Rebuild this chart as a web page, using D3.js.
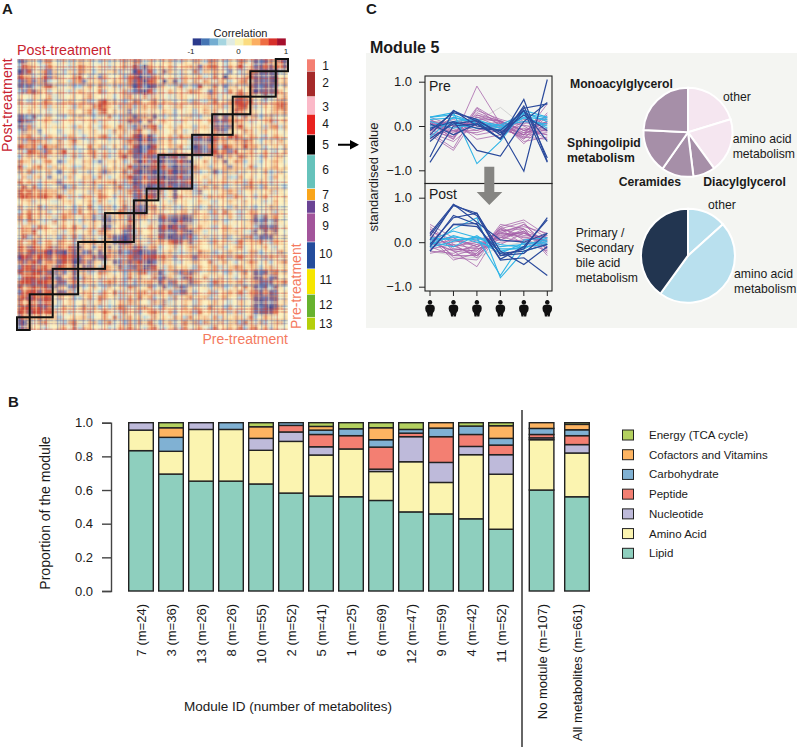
<!DOCTYPE html>
<html><head><meta charset="utf-8">
<style>html,body{margin:0;padding:0;background:#fff}svg{display:block}text{font-family:"Liberation Sans",Arial,sans-serif;fill:#1a1a1a}</style>
<script src="https://cdn.jsdelivr.net/npm/d3@7/dist/d3.min.js"></script>
</head><body><svg id="c" width="800" height="747"></svg>
<script>
// ---------- DATA ----------
const moduleIds=[1,2,3,4,5,6,7,8,9,10,11,12,13];
const moduleSizes=[25,52,36,42,41,69,24,26,59,55,52,47,26];
const moduleColors=["#f47f72","#a52a2a","#fbb9c8","#e8221f","#000000","#66c2bb","#f9a51b","#6a4394","#a2559b","#244c9c","#f6e600","#68b22e","#b5cf0a"];
const moduleLabelYs=[65.7,83,106.7,124,144.3,169.3,195,208,226,254,280,305,324];
const corrLegend=["#2b3a8c","#4575b4","#74add1","#a6d5e0","#e0ebe4","#f9f3b8","#fbdc80","#fbae61","#ee6d43","#d7302a","#a50f2d"];
const corrTicks=[-1,0,1];
const heatLevels={a:"#4b4f93",b:"#7d8dbb",c:"#b8d5de",d:"#e8ecd2",e:"#fbf0bf",f:"#f9dca8",g:"#f2b888",h:"#e38a63",i:"#cf5242",j:"#8f6f8c"};
const stripeLevels={r:"#c8302a",b:"#3f62a8",c:"#fff6c8",m:"#6d4a80",o:"#ef9a5c"};
const heatRows=[
"bj fecgh edfce gfedc ecfdge hgc fd efgdcfe gfch gecf ehgd jbjhf ij",
"ci gfdch fedce hgedf dcfegd ica ge fegdefg fbgh hecg fidf bjhjg hj",
"aj idfhb gecfd hgecf dfgced aib ic fjgecfd hcgf gfdb ecfh hjjjb cf",
"ih gcfib hfdeg iecfb gdefch iaj bh gdfecgf fgcd heaf fdgi jjbja ef",
"bj hbgjc dfecg hbefg cegfdh jia ih eafjcgd gdhf dgfc eghd jjbja fg",
"jb jcfhi gedfc cfgeh fdgceg aib aj gfdehcf ciff hebf gefh jbjjb eg",
"cb hjgfc efdce gfdeh cefdgc bja ic fdgefdh gfdb gdch fheg ajjjj ge",
"fe dgfeh cfdef eghfe dfcegh fdi cg fdcegfd efgh gcfd hihg fejcd gh",
"gd cfehg edfge fgcdh ifgdce hge fh egfdefc gdcf hefg iihi dfcef hg",
"ed efdgc feedc gfehi hfecfg cfh eg cedfgde fegd fgcf hiif cdfeg ih",
"fe gefdc dfegf eghch iegdfb efg df egfcedf cehf gdef ihge fdefg gh",
"jb cjdfg edcef gfecf ehdcfg jgh fj ecfdefg dcfe jfjg gdhf gcfgd ef",
"aj bcegf cdefe dfegc fdecfj hbf jd fgedcfd efdg jbjh hgfc defhc fg",
"jb hcefd feedc gefdc gfehfc bgj hi cefdgef cfgd jjbj gifd efcgh cg",
"cj gfbed ecdef cfegd echfgd hif ch fdegfcd gefd hjbf fehg dfgef df",
"fg hdfcg fecgf dcefg hcegdf iah ac fegdhfg bjhj hgfi igeg fdceg fe",
"gb hihgc fhdgi fdcge ecfdgi hai ab gfhdefc jbja ighf hgih ecfgd hf",
"ih ghcig hgdfc dehfg cdgecf iab ai fegfhdc ajbh hcih gfig gfcef dg",
"fc ihgbh fgidf ceghd fcdgeh jab ih efcgfde jjbj ighb iefg degdc eg",
"cf geghd fecdg cfehd gcegif jbi jb jajibjf dcfe gjfg fhgf ecgdf ge",
"hg fcdgh ebcfe dgfcb dfgecd hai bi ajbjija fehd gfje hgcf dcefg fd",
"ic eghfc gefdc cgedf cegdfi bja ji jibajbj hfgc fegb gfdh cdefg ef",
"gf hcfeg dbefg dfceg bgfehd iaj ja bjiajjb gcdf jcgf gdfe fegcd ge",
"dg cfgdb fecgd egfch dcefgi jbi bj jajjibj fegd fdgc cgef defcg ef",
"he gdcfe gbdfe cgdhf eghdcg ajh ji ijajbji dfcg efgd gfch egfcd de",
"fi ehcfd efbcg dfegc feghdc ibj ab jjibjjj cfhe gfcd fdgh fcgef dc",
"ih ighhg hfcge dfcgh fegcfh jib jj hcfjefg cjde dfgh gcef dfegc fe",
"hi hghig gifce cgfdh gecfde bjh ij fcejgdf dfcg egfc hfde cfgde ef",
"ef gcfed cefgd efgch ecdfgd jhj fe dfcgefd egfd cefg fdge efcdg ef",
"gd fehcf gfdec gehdc fgcehd hbj gh egfdcfe fcdg dfec gefd ceegf de",
"cf hegfc edfgc hefgc dfehgc jja eg fdeefgd gefc gdhf dceg gedfc fe",
"hf iegdf cfhge dgfbc jbfgej fgh ed jibjjaj fegd cfdg dcef jcjfh ed",
"gc hgfcd iegdf cgehf bjgfei gdf cf bjjaijj dfge gfcd fefg jbjcj fe",
"dg fchge dfgeh fcegd jbefgj fed ge jiaibjg egfd cegf deff cjjbj df",
"fh gidfe gecfg dfgch hgfebj cge fd jjbjhja gfce degf gfdc jfjgj ed",
"ei cfged fcgdh cgefd fhjbaj gdf ge ijajjbi cegd fdgc efgh cjbjf ef",
"gd fhceg dgfec egfhd gfbjaj efd cf gfhijfj dfec gefd chef fhdcg fe",
"ih jihgi jhgij jgfbh gjfbgh jib gh cdfgceh gfed fgce ghdf efgdc ef",
"hg ijhia ijahj gbjfj fhgjcb iaj bj dfgecdg ehgf cdfg fedg gcefd hf",
"ai jgihj ghihj bgfjb jgfcdh jbi ji ghfcfeg bfgd ehfc ghef dfcge df",
"hj hijgh hjiha jhbgf cfjbgj hij ab fgfdcef gfeh dfge cefh gdfce gh",
"bi ijhig jihgj fjbgc hgfjcb jha ji ecgfefd cgef gcdf hgef fcegd ef",
"ih hiihj jgbfj fgcdh gfdecg fhi cg jcfgbhj gdef fecg dfhe jbjgh fg",
"ci iihji bjfgj chfeg dfgech egf dh bjgfcji fehd egdf cegf jjgbj ef",
"hi ijiih gjbfh dgefc fhgdce cfg ge jgbhdfj gfec hgef fgde gjbjf gh",
"ig hihij jgfbj fcegd cgefdh gef hc fjcgjbg defc fgcd gehf jbjcj fd",
"bh iijhi fjbgc egfdc gehcfd fgh dg gfhcbjf cedg cefg fhdg hjgjb ef",
"hi jihii dgefc cfgdh gefcdg ehf gc efcgdfh efgc dfge ecdf jjbjj df",
"ig ihjii fcegd egcfh dcegfh gfe ch gjcfdgf cgef gfdc egfd jajbj fg",
"hi ihijh cegfd fhdgc ecfhgd egh fd cgefdge gfdh efcg dfef jbjaj gd",
"ih jiihi gdfce dgcfe hfdcge fce gh fdgcefg chef dgfc gcef bjjjh ef",
"jh gfhef gcdef fgcde gdhcfg efc dg efdgfch efgd gcfe gfdh cegfd ef",
"ja fdghe fdcgh edfgc fhdecg dgf he cfgdehf gchf egdf gchf dgcef gd",
"bj gefcd efgdh cgfed ecdgfh fec gh dcfgchd fgdc hefg fhcg hegcf de"];
const rowStripes="rb.c.r.m..bc.r..omb.c..r.cc.b.rr.o..c.mb..r.cc.o..cc..rb.cco..b..r.m.c..cc.oo.b.c...cr.b.mo.c..r.c.cc.b.m..r.o.b.cc..r..c.m.b.r.oc.c..b.rr.m..c.o.rb..c.m.r.bb.c..r.o.m.cc.b.r.r.c..ob.m.c.r";
const colStripes="cb.r.c..o.m.rc..b.c.r.o..cc.b.m.r..c.o.rb.c...m.c.or.b.cc..m.r.o..c.b.c.r.rb.m.ra.bm.rb.c.c..or.m.c.b.r.cc.o..bm.c.r..o.c..b.m.r..c.c.o.b.r.m.c.r..b.o.cc.m..r.b..c.ro.m.c.b..r.c.m.o.r.c..b.c";

const timepoints=[1,2,3,4,5,6];
const preDark=[[-0.05,0.1,-0.05,-0.1,-1.02,1.05],[-0.82,0,0.05,-0.28,0.6,-0.8],[-0.7,0.35,0.1,-0.3,0.45,-0.72],[-0.35,0.1,-0.55,-0.68,0.1,0.53],[-0.2,0.35,0,-0.1,0.35,-0.35],[-0.28,0.05,0.12,-0.15,0.25,-0.1],[0.05,-0.2,0.05,-0.3,0.35,-0.82],[-0.1,0.3,0.15,-0.2,0.4,0.5]];
const preCyan=[[0.2,0.3,-0.85,-0.35,0.35,0.2],[-0.25,0.2,0.05,-0.1,0.2,0.15],[0.2,0.25,0.05,-0.05,0.3,0.1],[-0.05,0.1,0.15,-0.05,0.25,-0.05],[0.1,-0.05,0.05,0,0.1,0.05],[0.15,0.18,0.1,0.02,0.28,0.18],[0,0.05,-0.05,-0.08,0.18,0]];
const prePurple=[[-0.05,-0.3,0.9,0.05,-0.25,0.05],[-0.2,-0.55,0.25,0.05,-0.2,0.5],[-0.15,-0.5,0.4,0,-0.3,0.3],[0.1,-0.3,0.42,0.1,-0.1,-0.2],[0.15,-0.2,0.35,0.15,0,-0.3],[-0.1,-0.25,0.3,0.1,-0.2,-0.15],[0.05,-0.15,0.2,0.1,-0.4,0.1],[-0.2,-0.1,-0.1,0.08,-0.35,-0.25],[0.2,0,-0.2,-0.1,-0.2,0.2],[0.15,-0.1,0.1,-0.05,-0.25,-0.3],[-0.3,0.1,-0.3,-0.2,0.1,0.15],[0,0.1,0.15,0.12,-0.15,-0.1],[0.1,0.05,-0.1,0.05,0.05,0.2],[-0.1,0.2,0.05,-0.1,-0.05,-0.2],[0.05,-0.05,0.25,0.12,-0.1,0.1],[-0.05,0.15,-0.05,-0.15,0.15,0.05],[0.12,-0.2,0.05,0,0.1,-0.1],[-0.15,-0.35,0.1,-0.05,-0.15,0.25],[0.08,-0.12,-0.15,0.02,-0.2,0.12],[-0.08,0.02,0.08,-0.12,0.02,-0.12],[0.02,-0.25,0.2,-0.02,-0.28,-0.05],[-0.12,0.08,0,0.1,-0.1,0.08]];
const preGray=[[0.1,0.1,0.1,0.42,0,0.05]];
const postDark=[[0.2,0.85,0.6,-0.3,-0.15,0.55],[0.15,0.82,0.65,-0.2,-0.5,-0.1],[-0.1,0.6,0.4,-0.4,-0.35,-0.75],[-0.2,0.4,0.42,-0.38,-0.1,0.5],[0.05,0.85,0.45,0.05,0,0.2],[-0.2,0.4,0.35,-0.25,-0.2,-0.05],[-0.05,0.55,0.65,-0.3,-0.25,0.2]];
const postCyan=[[-0.1,0.3,0.55,-0.8,-0.2,-0.05],[0.05,0.25,0.1,-0.75,0.05,0.1],[0,-0.1,0.15,-0.2,-0.1,-0.05],[0.1,0.05,0.1,-0.1,-0.05,0.05],[-0.05,0.15,0,-0.15,-0.15,0.1],[0.02,0.12,0.05,-0.25,-0.02,-0.02],[-0.12,0.02,0.12,-0.05,-0.12,0.02]];
const postPurple=[[0.4,0.1,-0.3,0.4,0.3,0],[0.35,-0.05,-0.35,0.35,0.5,0.15],[0.3,-0.2,-0.55,0.3,0.45,-0.2],[0.2,-0.35,-0.4,0.25,0.3,-0.3],[0.1,-0.4,-0.25,0.2,0.4,0.1],[-0.1,-0.3,-0.3,0.1,0.25,-0.15],[-0.25,-0.15,-0.2,0.3,0.15,0.1],[0.05,0.1,-0.1,0.25,0.35,0.2],[0.25,0.05,-0.05,0.15,0.2,-0.05],[-0.2,-0.25,-0.05,0.05,0.3,-0.25],[0.15,-0.1,0.05,0.2,0.1,0.05],[-0.15,-0.05,-0.15,0,0.05,0.15],[0,-0.2,-0.25,0.35,0.05,-0.1],[0.3,-0.1,0,0.1,0.4,-0.05],[-0.05,0.05,-0.1,0.12,0,-0.2],[0.1,-0.3,-0.15,-0.05,0.2,0.1],[-0.1,0,0.1,0.05,0.25,-0.15],[0.2,-0.15,-0.2,0.3,-0.05,0.05],[0.12,-0.08,-0.3,0.18,0.22,-0.1],[-0.02,-0.18,-0.12,0.22,0.12,0.02]];
const postGray=[[-0.2,-0.3,-0.35,-0.1,0,0.05]];
const lineTicks=[1,0,-1];

const pieTopLabels=["other","amino acid metabolism","Diacylglycerol","Ceramides","Sphingolipid metabolism","Monoacylglycerol"];
const pieTopValues=[73,71,29,42,58,87];
const pieTopColors=["#f5e6f0","#f5e6f0","#a68fa8","#a68fa8","#a68fa8","#a68fa8"];
const pieBottomLabels=["other","amino acid metabolism","Primary / Secondary bile acid metabolism"];
const pieBottomValues=[48,168,144];
const pieBottomColors=["#b9e0ee","#b9e0ee","#223550"];

const barIdsMain=["7 (m=24)","3 (m=36)","13 (m=26)","8 (m=26)","10 (m=55)","2 (m=52)","5 (m=41)","1 (m=25)","6 (m=69)","12 (m=47)","9 (m=59)","4 (m=42)","11 (m=52)"];
const barIdsExtra=["No module (m=107)","All metabolites (m=661)"];
const classNames=["Lipid","Amino Acid","Nucleotide","Peptide","Carbohydrate","Cofactors and Vitamins","Energy (TCA cycle)"];
const classColors=["#8ecfbe","#fbf4b0","#bebada","#f37f72","#80b1d3","#fdb462","#b3d05f"];
const lipid=[.834,.695,.653,.653,.636,.582,.564,.56,.538,.47,.458,.429,.367,.6,.56];
const aminoAcid=[.122,.135,.307,.307,.2,.307,.244,.284,.172,.298,.187,.381,.327,.299,.26];
const nucleotide=[.044,0,.04,0,.071,.056,.049,0,.014,.149,.119,.049,.116,.011,.05];
const peptide=[0,0,0,0,0,.039,.073,.079,.131,.021,.153,.071,.057,.02,.053];
const carbohydrate=[0,.083,0,.04,0,.016,.026,.041,.044,.022,.051,.05,.04,.036,.035];
const cofactors=[0,.057,0,0,.069,0,.022,0,.071,0,.032,0,.075,.034,.032];
const energy=[0,.03,0,0,.024,0,.022,.036,.03,.04,0,.02,.018,0,.01];
const barTicks=[0,.2,.4,.6,.8,1];

// ---------- DRAW ----------
const svg=d3.select("#c");
const txt=(x,y,s,o={})=>{const t=svg.append("text").attr("x",x).attr("y",y).text(s)
 .attr("font-size",o.size||13).attr("text-anchor",o.anchor||"start");
 if(o.bold)t.attr("font-weight","bold"); if(o.fill)t.style("fill",o.fill);
 if(o.rot)t.attr("transform",`rotate(-90 ${x} ${y})`); return t;};

// panel letters
txt(2,14,"A",{size:15,bold:1}); txt(8,407,"B",{size:15,bold:1}); txt(366,14,"C",{size:15,bold:1});

// ---- Heatmap ----
const hx=d3.scaleBand().domain(d3.range(54)).range([17,288]);
const hy=d3.scaleBand().domain(d3.range(54)).range([59,330]);
const hc=d3.scaleOrdinal().domain(Object.keys(heatLevels)).range(Object.values(heatLevels));
const defs=svg.append("defs");
defs.append("filter").attr("id","soft").attr("x","0").attr("y","0").attr("width","1").attr("height","1")
 .append("feGaussianBlur").attr("stdDeviation",.9);
defs.append("clipPath").attr("id","hclip").append("rect").attr("x",17).attr("y",59).attr("width",271).attr("height",271);
const heatCells=heatRows.flatMap((r,i)=>Array.from(r.replace(/ /g,""),(c,j)=>({i,j,c})));
const hroot=svg.append("g").attr("clip-path","url(#hclip)");
const hg=hroot.append("g").attr("filter","url(#soft)");
hg.append("rect").attr("x",17).attr("y",59).attr("width",271).attr("height",271).attr("fill","#f9dfa8");
hg.selectAll("rect.c").data(heatCells).join("rect").attr("class","c")
 .attr("x",d=>hx(d.j)).attr("y",d=>hy(d.i)).attr("width",hx.bandwidth()+.3).attr("height",hy.bandwidth()+.3)
 .attr("fill",d=>hc(d.c));
// fine row / column striping of the heatmap
const srY=d3.scaleBand().domain(d3.range(rowStripes.length)).range([59,330]);
const srX=d3.scaleBand().domain(d3.range(colStripes.length)).range([17,288]);
const stripeOp={r:.34,b:.34,c:.4,m:.28,o:.25};
hroot.append("g").selectAll("rect").data(Array.from(rowStripes).map((c,i)=>({c,i})).filter(d=>d.c!==".")).join("rect")
 .attr("x",17).attr("width",271).attr("y",d=>srY(d.i)).attr("height",srY.bandwidth())
 .attr("fill",d=>stripeLevels[d.c]).attr("opacity",d=>stripeOp[d.c]);
hroot.append("g").selectAll("rect").data(Array.from(colStripes).map((c,i)=>({c,i})).filter(d=>stripeLevels[d.c])).join("rect")
 .attr("y",59).attr("height",271).attr("x",d=>srX(d.i)).attr("width",srX.bandwidth())
 .attr("fill",d=>stripeLevels[d.c]).attr("opacity",d=>stripeOp[d.c]);
// module boxes, sized from module membership
const cum=[0,...d3.cumsum(moduleSizes)], total=d3.sum(moduleSizes);
const bx=d3.scaleLinear().domain([0,total]).range([288,17]);
const by=d3.scaleLinear().domain([0,total]).range([59,330]);
svg.append("g").selectAll("rect").data(moduleIds).join("rect")
 .attr("x",(d,i)=>bx(cum[i+1])).attr("y",(d,i)=>by(cum[i]))
 .attr("width",(d,i)=>bx(cum[i])-bx(cum[i+1])).attr("height",(d,i)=>by(cum[i+1])-by(cum[i]))
 .attr("fill","none").attr("stroke","#111").attr("stroke-width",2);
// side strip
svg.append("g").selectAll("rect").data(moduleIds).join("rect")
 .attr("x",307).attr("width",8).attr("y",(d,i)=>by(cum[i])+.3).attr("height",(d,i)=>by(cum[i+1])-by(cum[i])-.6)
 .attr("fill",(d,i)=>moduleColors[i]);
svg.append("g").selectAll("text").data(moduleIds).join("text")
 .attr("x",325.7).attr("y",(d,i)=>moduleLabelYs[i]+4.3).attr("text-anchor","middle").attr("font-size",12).text(d=>d);
// corr legend
const lx=d3.scaleBand().domain(d3.range(corrLegend.length)).range([192.7,285.5]);
svg.append("g").selectAll("rect").data(corrLegend).join("rect")
 .attr("x",(d,i)=>lx(i)).attr("y",38.4).attr("width",lx.bandwidth()+.3).attr("height",7).attr("fill",d=>d);
const lt=d3.scaleLinear().domain([-1,1]).range([191,286]);
svg.append("g").selectAll("text").data(corrTicks).join("text")
 .attr("x",d=>lt(d)).attr("y",54).attr("text-anchor","middle").attr("font-size",8).text(d=>d);
txt(240.5,36.5,"Correlation",{size:11,anchor:"middle"});
txt(17,55,"Post-treatment",{size:14.3,fill:"#c8222f"});
txt(12,152,"Post-treatment",{size:14.3,fill:"#c8222f",rot:1});
txt(288,344,"Pre-treatment",{size:14,fill:"#f47a60",anchor:"end"});
txt(301,329,"Pre-treatment",{size:14,fill:"#f47a60",rot:1});
// pointer arrow
svg.append("path").attr("d",d3.line()([[338,143.7],[350,143.7],[350,140],[359,144.7],[350,149.4],[350,145.7],[338,145.7]])+"Z").attr("fill","#000");

// ---- Panel C ----
svg.append("rect").attr("x",366).attr("y",53).attr("width",431).attr("height",275).attr("fill","#f4f5f2");
txt(370,52.5,"Module 5",{size:16,bold:1});
const tx=d3.scalePoint().domain(timepoints).range([430,547.3]);
const yPre=d3.scaleLinear().domain([-1,1]).range([170.3,81.7]);
const yPost=d3.scaleLinear().domain([-1,1]).range([286.7,197.7]);
function panel(top,h,y,id,gray,purple,cyan,dark){
 defs.append("clipPath").attr("id",id).append("rect").attr("x",425).attr("y",top).attr("width",127).attr("height",h);
 const g=svg.append("g").attr("clip-path",`url(#${id})`);
 const line=d3.line().x((d,i)=>tx(timepoints[i])).y(d=>y(d));
 const draw=(data,col,w,op)=>g.append("g").selectAll("path").data(data).join("path").attr("d",line)
   .attr("fill","none").attr("stroke",col).attr("stroke-width",w).attr("opacity",op);
 draw(gray,"#cfcfcf",.9,1);draw(purple,"#a45fa8",1,.75);draw(cyan,"#2fb4e6",1.1,1);draw(dark,"#2a4a9c",1.2,1);
 svg.append("g").attr("transform","translate(425,0)").call(d3.axisLeft(y).tickValues(lineTicks).tickSize(6).tickFormat(d=>(d<0?"\u2212":"")+Math.abs(d).toFixed(1)))
  .call(a=>{a.select(".domain").remove();a.selectAll("line").attr("stroke","#222");a.selectAll("text").attr("font-size",13).attr("x",-13).style("font-family",'"Liberation Sans",Arial,sans-serif');});
 svg.append("rect").attr("x",425).attr("y",top).attr("width",127).attr("height",h).attr("fill","none").attr("stroke","#222").attr("stroke-width",1.1);
}
panel(76,107.5,yPre,"cpre",preGray,prePurple,preCyan,preDark);
panel(183.5,107.5,yPost,"cpost",postGray,postPurple,postCyan,postDark);
txt(429,91,"Pre",{size:14});txt(429,199,"Post",{size:14});
txt(378,177,"standardised value",{size:13,anchor:"middle",rot:1});
// big gray arrow
svg.append("path").attr("d",d3.line()([[484.3,166.7],[494.3,166.7],[494.3,192],[502.3,192],[489.3,205],[476.7,192],[484.3,192]])+"Z").attr("fill","#858582");
// x ticks + person icons
const person="M0,-8.5a2.3,2.3 0 1 0 .01,0ZM-2.2,-3.7h4.4q2.6,.4 2.6,3.6q0,3.2 -1.8,4.6l-.6,3.6h-2.2v-1.6h-.4v1.6h-2.2l-.6,-3.6q-1.8,-1.4 -1.8,-4.6q0,-3.2 2.6,-3.6Z";
svg.append("g").selectAll("line").data(timepoints).join("line").attr("x1",d=>tx(d)).attr("x2",d=>tx(d)).attr("y1",291).attr("y2",296).attr("stroke","#222");
svg.append("g").selectAll("path").data(timepoints).join("path").attr("d",person).attr("transform",d=>`translate(${tx(d)},308.5)`).attr("fill","#111");

// pies
function pie(vals,cols,cx,cy,r){
 const arcs=d3.pie().sort(null)(vals);
 const arc=d3.arc().innerRadius(0).outerRadius(r);
 svg.append("g").attr("transform",`translate(${cx},${cy})`).selectAll("path").data(arcs).join("path")
  .attr("d",arc).attr("fill",(d,i)=>cols[i]).attr("stroke","#fff").attr("stroke-width",2);
}
pie(pieTopValues,pieTopColors,688,132.3,44.5);
pie(pieBottomValues,pieBottomColors,688,255.7,47);
const fs=12.2;
txt(570,88,pieTopLabels[5],{size:fs,bold:1});
txt(723,100.7,pieTopLabels[0],{size:fs});
txt(732.7,142.7,"amino acid",{size:fs});txt(732.7,157.7,"metabolism",{size:fs});
txt(567,146.7,"Sphingolipid",{size:fs,bold:1});txt(567,161.7,"metabolism",{size:fs,bold:1});
txt(618.7,186,pieTopLabels[3],{size:fs,bold:1});txt(703.3,186,pieTopLabels[2],{size:fs,bold:1});
txt(708,209.3,pieBottomLabels[0],{size:fs});
["Primary /","Secondary","bile acid","metabolism"].forEach((s,i)=>txt(575.7,236.7+15*i,s,{size:fs}));
txt(734,278,"amino acid",{size:fs});txt(734,293,"metabolism",{size:fs});

// ---- Panel B ----
const by2=d3.scaleLinear().domain([0,1]).range([591,422.7]);
const xMain=d3.scaleBand().domain(barIdsMain).range([126,516]).paddingInner(.18).paddingOuter(.09);
const xExtra=d3.scaleBand().domain(barIdsExtra).range([523.9,594.7]).paddingInner(.305).paddingOuter(.1525);
const allIds=[...barIdsMain,...barIdsExtra];
const xBar=id=>barIdsMain.includes(id)?xMain(id):xExtra(id);
const rows=allIds.map((id,i)=>({id,Lipid:lipid[i],"Amino Acid":aminoAcid[i],Nucleotide:nucleotide[i],Peptide:peptide[i],Carbohydrate:carbohydrate[i],"Cofactors and Vitamins":cofactors[i],"Energy (TCA cycle)":energy[i]}));
const stacked=d3.stack().keys(classNames)(rows);
svg.append("g").selectAll("g").data(stacked).join("g").attr("fill",(d,i)=>classColors[i])
 .selectAll("rect").data(d=>d.filter(p=>p[1]-p[0]>0)).join("rect")
 .attr("x",d=>xBar(d.data.id)).attr("width",xMain.bandwidth())
 .attr("y",d=>by2(d[1])).attr("height",d=>by2(d[0])-by2(d[1]))
 .attr("stroke","#222").attr("stroke-width",1.4);
svg.append("g").attr("transform","translate(111,0)").call(d3.axisLeft(by2).tickValues(barTicks).tickSize(9).tickFormat(d3.format(".1f")))
 .call(a=>{a.select(".domain").attr("stroke","#444").attr("stroke-width",1.4);a.selectAll("line").attr("stroke","#444").attr("stroke-width",1.4);a.selectAll("text").attr("font-size",13).attr("x",-18).style("font-family",'"Liberation Sans",Arial,sans-serif');});
txt(50,513,"Proportion of the module",{size:14,anchor:"middle",rot:1});
allIds.forEach(id=>txt(xBar(id)+xMain.bandwidth()/2+5,604,id,{size:13,anchor:"end",rot:1}));
txt(288,711,"Module ID (number of metabolites)",{size:13.5,anchor:"middle"});
svg.append("line").attr("x1",522).attr("x2",522).attr("y1",410).attr("y2",747).attr("stroke","#333").attr("stroke-width",1.5);
// legend
const legY=d3.scalePoint().domain([...classNames].reverse()).range([435,553.3]);
classNames.forEach((n,i)=>{
 svg.append("rect").attr("x",622.5).attr("y",legY(n)-5).attr("width",11).attr("height",10).attr("fill",classColors[i]).attr("stroke","#222").attr("stroke-width",1);
 txt(649,legY(n)+4,n,{size:11.5});
});
</script></body></html>
